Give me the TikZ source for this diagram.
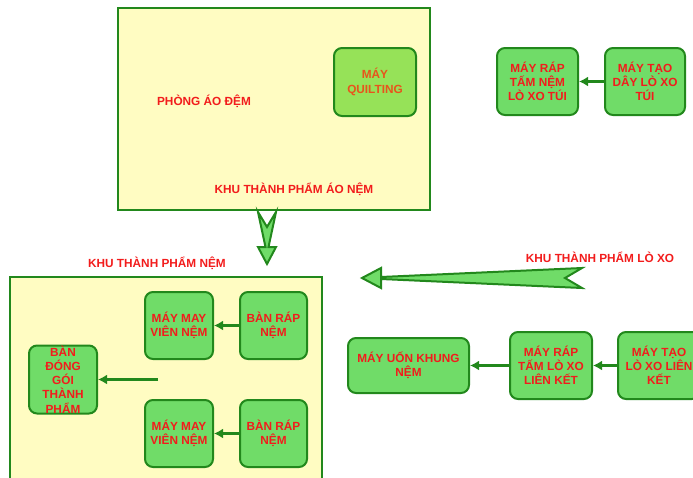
\documentclass[tikz,border=0pt]{standalone}
\usepackage{fontspec}
\setmainfont{Liberation Sans}
\usetikzlibrary{arrows.meta}
\definecolor{frame_green}{RGB}{34,136,28}
\definecolor{box_green}{RGB}{112,220,104}
\definecolor{lime_green}{RGB}{150,226,88}
\definecolor{pale_yellow}{RGB}{255,252,194}
\definecolor{label_red}{RGB}{242,28,28}
\definecolor{label_orange}{RGB}{232,84,28}

\tikzset{
	machine/.style={rectangle,rounded corners=8pt,draw=frame_green,line width=2pt,fill=box_green,
		text=label_red,font=\bfseries\fontsize{11.8}{14.2}\selectfont,align=center,inner sep=0pt},
	zone/.style={draw=frame_green,line width=2.4pt,fill=pale_yellow},
	caption/.style={text=label_red,font=\bfseries\fontsize{11.8}{14.2}\selectfont},
	flow/.style={frame_green,line width=2.2pt,-{Latex[length=9pt,width=10pt]}},
	bigarrow/.style={draw=frame_green,fill=box_green,line width=2pt,line join=miter}
}

\begin{document}
\begin{tikzpicture}[x=1pt,y=-1pt]
	\useasboundingbox (0,0) rectangle (693,477);

	% zones
	\draw[zone] (118,8) rectangle (430,210);
	\draw[zone] (10,277) rectangle (322,490);

	\node[caption] (phong) at (204,101) {PHÒNG ÁO ĐỆM};
	\node[caption] (khuao) at (294,189) {KHU THÀNH PHẨM ÁO NỆM};
	\node[caption] (khunem) at (157,263) {KHU THÀNH PHẨM NỆM};
	\node[caption] (khulx) at (600,257) {KHU THÀNH PHẨM LÒ XO};

	% machines
	\node[machine,fill=lime_green,text=label_orange,minimum width=82pt,minimum height=68pt] (quilting) at (375,82) {MÁY\\QUILTING};
	\node[machine,minimum width=81pt,minimum height=67pt] (raptui) at (537.5,81.5) {MÁY RÁP\\TẤM NỆM\\LÒ XO TÚI};
	\node[machine,minimum width=80pt,minimum height=67pt] (taotui) at (645,81.5) {MÁY TẠO\\DÂY LÒ XO\\TÚI};

	\node[machine,minimum width=68pt,minimum height=67pt] (maymay1) at (179,325.5) {MÁY MAY\\VIÊN NỆM};
	\node[machine,minimum width=67pt,minimum height=67pt] (banrap1) at (273.5,325.5) {BÀN RÁP\\NỆM};
	\node[machine,minimum width=68pt,minimum height=67pt] (maymay2) at (179,433.5) {MÁY MAY\\VIÊN NỆM};
	\node[machine,minimum width=67pt,minimum height=67pt] (banrap2) at (273.5,433.5) {BÀN RÁP\\NỆM};
	\node[machine,minimum width=68pt,minimum height=68pt] (donggoi) at (63,379.5) {BÀN\\ĐÓNG\\GÓI\\THÀNH\\PHẨM};
	\coordinate (merge) at (158,379.5);

	\node[machine,minimum width=121pt,minimum height=55pt] (uonkhung) at (408.5,365.5) {MÁY UỐN KHUNG\\NỆM};
	\node[machine,minimum width=82pt,minimum height=67pt] (raplk) at (551,365.5) {MÁY RÁP\\TẤM LÒ XO\\LIÊN KẾT};
	\node[machine,minimum width=82pt,minimum height=67pt] (taolk) at (659,365.5) {MÁY TẠO\\LÒ XO LIÊN\\KẾT};

	\foreach \a/\b in {taotui/raptui,banrap1/maymay1,banrap2/maymay2,merge/donggoi,raplk/uonkhung,taolk/raplk}
		\draw[flow] (\a) -- (\b);

	% big notched arrows
	\draw[bigarrow] (267,264) -- (276,247) -- (268.5,247) -- (276,212) -- (267,227)
		-- (258,212) -- (265.5,247) -- (258,247) -- cycle;
	\draw[bigarrow] (362,278) -- (381,268) -- (381,277) -- (582,268) -- (565,278)
		-- (582,288) -- (381,279) -- (381,288) -- cycle;
\end{tikzpicture}
\end{document}
